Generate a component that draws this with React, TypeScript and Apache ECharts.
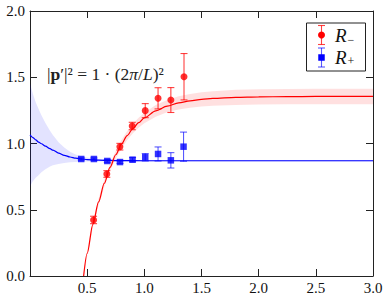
import React, { useEffect, useRef } from "react";
import * as echarts from "echarts";

// Data points R- (red) and R+ (blue)
const redX = [0.556, 0.672, 0.786, 0.894, 1.008, 1.12, 1.232, 1.347];
const redY = [0.423, 0.77, 0.976, 1.132, 1.248, 1.341, 1.328, 1.504];
const redErr = [0.028, 0.025, 0.025, 0.028, 0.053, 0.08, 0.094, 0.175];

const blueX = [0.448, 0.559, 0.676, 0.787, 0.897, 1.008, 1.12, 1.232, 1.343];
const blueY = [0.883, 0.883, 0.868, 0.86, 0.878, 0.896, 0.921, 0.873, 0.976];
const blueErr = [0.008, 0.008, 0.01, 0.01, 0.016, 0.028, 0.053, 0.058, 0.11];

// Fit curve R- with its band
const redCurveX = [0.469, 0.5, 0.55, 0.6, 0.65, 0.7, 0.75, 0.8, 0.85, 0.9, 0.95, 1.0, 1.1, 1.2, 1.3, 1.4, 1.5, 1.6, 1.8, 2.0, 2.25, 2.5, 2.75, 3.0];
const redCurveY = [0.0, 0.17, 0.39, 0.56, 0.7, 0.82, 0.915, 0.995, 1.06, 1.113, 1.157, 1.193, 1.246, 1.282, 1.306, 1.322, 1.333, 1.34, 1.348, 1.352, 1.354, 1.355, 1.355, 1.355];
const redBandLow = [-0.02, 0.149, 0.367, 0.535, 0.673, 0.792, 0.885, 0.963, 1.026, 1.077, 1.119, 1.153, 1.202, 1.235, 1.256, 1.27, 1.279, 1.285, 1.291, 1.294, 1.296, 1.297, 1.297, 1.297];
const redBandHigh = [0.02, 0.191, 0.413, 0.585, 0.727, 0.848, 0.945, 1.027, 1.094, 1.149, 1.195, 1.233, 1.29, 1.329, 1.356, 1.374, 1.387, 1.395, 1.405, 1.41, 1.412, 1.413, 1.413, 1.413];

// Fit curve R+ with its band
const blueCurveX = [0, 0.025, 0.05, 0.075, 0.1, 0.135, 0.175, 0.2, 0.25, 0.3, 0.35, 0.4, 0.45, 0.5, 0.6, 0.7, 0.8, 1.0, 1.5, 2.0, 3.0];
const blueCurveY = [1.065, 1.045, 1.027, 1.011, 0.998, 0.98, 0.961, 0.95, 0.928, 0.911, 0.898, 0.889, 0.883, 0.879, 0.874, 0.872, 0.871, 0.87, 0.87, 0.87, 0.87];
const blueBandLow = [0.675, 0.715, 0.742, 0.761, 0.783, 0.805, 0.826, 0.835, 0.846, 0.853, 0.858, 0.861, 0.863, 0.864, 0.865, 0.865, 0.865, 0.865, 0.865, 0.865, 0.865];
const blueBandHigh = [1.455, 1.375, 1.312, 1.261, 1.213, 1.155, 1.096, 1.065, 1.01, 0.969, 0.938, 0.917, 0.903, 0.894, 0.883, 0.879, 0.877, 0.875, 0.875, 0.875, 0.875];

const xTicks = { min: 0, max: 3, interval: 0.5 };
const yTicks = { min: 0, max: 2, interval: 0.5 };

const SERIF = "Liberation Serif";
const RED = "#ff0000";
const BLUE = "#0000ff";

export default function App() {
  const ref = useRef<HTMLDivElement>(null);

  useEffect(() => {
    const chart = echarts.init(ref.current!, null, { renderer: "svg" });

    const band = (xs: number[], lo: number[], hi: number[], color: string) => ({
      type: "custom",
      clip: true,
      silent: true,
      z: 1,
      data: xs.map((x, i) => [x, lo[i], hi[i]]),
      encode: { x: 0, y: [1, 2] },
      renderItem: (params: any, api: any) => {
        if (params.dataIndex !== 0) return null;
        const up = xs.map((x, i) => api.coord([x, hi[i]]));
        const dn = xs.map((x, i) => api.coord([x, lo[i]])).reverse();
        return {
          type: "polygon",
          shape: { points: up.concat(dn) },
          style: { fill: color, stroke: "none" },
        };
      },
    });

    const errbars = (xs: number[], ys: number[], es: number[], color: string) => ({
      type: "custom",
      clip: true,
      silent: true,
      z: 3,
      data: xs.map((x, i) => [x, ys[i] - es[i], ys[i] + es[i]]),
      encode: { x: 0, y: [1, 2] },
      renderItem: (params: any, api: any) => {
        const lo = api.coord([api.value(0), api.value(1)]);
        const hi = api.coord([api.value(0), api.value(2)]);
        const w = 3.5;
        const st = { stroke: color, lineWidth: 1.1, fill: "none" };
        return {
          type: "group",
          children: [
            { type: "line", shape: { x1: lo[0], y1: lo[1], x2: hi[0], y2: hi[1] }, style: st },
            { type: "line", shape: { x1: lo[0] - w, y1: lo[1], x2: lo[0] + w, y2: lo[1] }, style: st },
            { type: "line", shape: { x1: hi[0] - w, y1: hi[1], x2: hi[0] + w, y2: hi[1] }, style: st },
          ],
        };
      },
    });

    const axisCommon = {
      axisLine: { show: true, onZero: false, lineStyle: { color: "#222", width: 1 } },
      axisTick: { show: true, inside: true, length: 7, lineStyle: { color: "#222", width: 1 } },
      splitLine: { show: false },
    };

    const txt = (text: string, x: number, y: number, size: number, italic: boolean) => ({
      type: "text",
      z: 22,
      x,
      y,
      style: {
        text,
        fontFamily: SERIF,
        fontSize: size,
        fontStyle: italic ? "italic" : "normal",
        fill: "#111",
        textVerticalAlign: "middle",
        verticalAlign: "middle",
      },
    });

    const option: any = {
      animation: false,
      backgroundColor: "#fff",
      textStyle: { fontFamily: SERIF },
      grid: { left: 30, right: 17, top: 11, bottom: 21, containLabel: false },
      xAxis: [
        {
          type: "value",
          ...xTicks,
          ...axisCommon,
          position: "bottom",
          axisLabel: {
            show: true,
            margin: 4,
            color: "#111",
            fontFamily: SERIF,
            fontSize: 15,
            formatter: (v: number) => (v === 0 ? "" : v.toFixed(1)),
          },
        },
        {
          type: "value",
          ...xTicks,
          ...axisCommon,
          position: "top",
          axisLabel: { show: false },
        },
      ],
      yAxis: [
        {
          type: "value",
          ...yTicks,
          ...axisCommon,
          position: "left",
          axisLabel: {
            show: true,
            margin: 5,
            color: "#111",
            fontFamily: SERIF,
            fontSize: 15,
            formatter: (v: number) => v.toFixed(1),
          },
        },
        {
          type: "value",
          ...yTicks,
          ...axisCommon,
          position: "right",
          axisLabel: { show: false },
        },
      ],
      series: [
        band(blueCurveX, blueBandLow, blueBandHigh, "rgba(0,0,255,0.11)"),
        band(redCurveX, redBandLow, redBandHigh, "rgba(255,0,0,0.12)"),
        {
          type: "line",
          name: "R+ fit",
          data: blueCurveX.map((x, i) => [x, blueCurveY[i]]),
          symbol: "none",
          smooth: 0.3,
          smoothMonotone: "x",
          clip: true,
          z: 2,
          lineStyle: { color: BLUE, width: 1.2 },
        },
        {
          type: "line",
          name: "R- fit",
          data: redCurveX.map((x, i) => [x, redCurveY[i]]),
          symbol: "none",
          smooth: 0.3,
          smoothMonotone: "x",
          clip: true,
          z: 2,
          lineStyle: { color: RED, width: 1.2 },
        },
        errbars(redX, redY, redErr, "rgba(255,0,0,0.75)"),
        errbars(blueX, blueY, blueErr, "rgba(0,0,255,0.65)"),
        {
          type: "scatter",
          name: "R−",
          data: redX.map((x, i) => [x, redY[i]]),
          symbol: "circle",
          symbolSize: 7,
          z: 4,
          itemStyle: { color: RED },
        },
        {
          type: "scatter",
          name: "R+",
          data: blueX.map((x, i) => [x, blueY[i]]),
          symbol: "rect",
          symbolSize: 6.5,
          z: 4,
          itemStyle: { color: BLUE },
        },
      ],
      graphic: [
        {
          type: "text",
          x: 47,
          y: 74,
          z: 10,
          style: {
            text: "|{b|p}′|² = 1 · (2{i|π}/{i|L})²",
            fontFamily: SERIF,
            fontSize: 17.5,
            fill: "#222",
            textVerticalAlign: "middle",
            verticalAlign: "middle",
            rich: {
              b: { fontFamily: SERIF, fontSize: 17.5, fontWeight: "bold", fill: "#222" },
              i: { fontFamily: SERIF, fontSize: 17.5, fontStyle: "italic", fill: "#222" },
            },
          },
        },
        // Legend box
        {
          type: "rect",
          z: 20,
          shape: { x: 306.5, y: 23, width: 59, height: 48 },
          style: { fill: "#fff", stroke: "#222", lineWidth: 1 },
        },
        // Red legend entry
        { type: "line", z: 21, shape: { x1: 321.5, y1: 25.5, x2: 321.5, y2: 44.5 }, style: { stroke: "rgba(255,0,0,0.75)", lineWidth: 1.1 } },
        { type: "line", z: 21, shape: { x1: 318, y1: 25.5, x2: 325, y2: 25.5 }, style: { stroke: "rgba(255,0,0,0.75)", lineWidth: 1.1 } },
        { type: "line", z: 21, shape: { x1: 318, y1: 44.5, x2: 325, y2: 44.5 }, style: { stroke: "rgba(255,0,0,0.75)", lineWidth: 1.1 } },
        { type: "circle", z: 22, shape: { cx: 321.5, cy: 35, r: 3.5 }, style: { fill: RED } },
        txt("R", 335, 35, 19, true),
        txt("−", 347.5, 40, 12, false),
        // Blue legend entry
        { type: "line", z: 21, shape: { x1: 321.5, y1: 48, x2: 321.5, y2: 67 }, style: { stroke: "rgba(0,0,255,0.65)", lineWidth: 1.1 } },
        { type: "line", z: 21, shape: { x1: 318, y1: 48, x2: 325, y2: 48 }, style: { stroke: "rgba(0,0,255,0.65)", lineWidth: 1.1 } },
        { type: "line", z: 21, shape: { x1: 318, y1: 67, x2: 325, y2: 67 }, style: { stroke: "rgba(0,0,255,0.65)", lineWidth: 1.1 } },
        { type: "rect", z: 22, shape: { x: 318.25, y: 54.25, width: 6.5, height: 6.5 }, style: { fill: BLUE } },
        txt("R", 335, 57, 19, true),
        txt("+", 347.5, 61, 12, false),
      ],
    };

    chart.setOption(option);
    return () => chart.dispose();
  }, []);

  return (
    <div
      ref={ref}
      style={{ position: "fixed", left: 0, top: 0, width: 390, height: 297, background: "#fff" }}
    />
  );
}
